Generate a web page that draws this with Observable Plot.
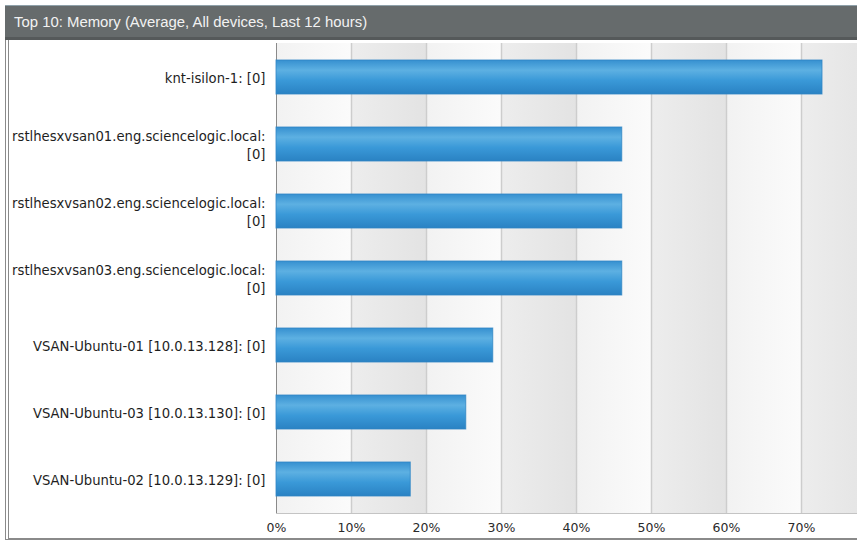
<!DOCTYPE html>
<html>
<head>
<meta charset="utf-8">
<script src="https://cdn.jsdelivr.net/npm/d3@7"></script>
<script src="https://cdn.jsdelivr.net/npm/@observablehq/plot@0.6"></script>
<style>
  html, body { margin: 0; padding: 0; width: 857px; height: 544px; overflow: hidden; background: #fff; }
  #frame { position: absolute; left: 5px; top: 5px; width: 900px; height: 535px;
           border-left: 4px double #8a8a8a; border-bottom: 2px solid #8a8a8a; box-sizing: border-box; }
  #titlebar { position: absolute; left: 5px; top: 5px; width: 900px; height: 35px; box-sizing: border-box;
              background: #666b6c; border-top: 1px solid #8fa1aa; border-bottom: 3px solid #55595a;
              color: #f2f2f2; font-family: "Liberation Sans", Arial, sans-serif; font-size: 14.9px;
              line-height: 33px; padding-left: 9px; white-space: nowrap; }
  #chart { position: absolute; left: 9px; top: 40px; }
</style>
</head>
<body>
<svg width="0" height="0" style="position:absolute">
  <defs>
    <linearGradient id="barGrad" x1="0" y1="0" x2="0" y2="1">
      <stop offset="0" stop-color="#3690d0"/>
      <stop offset="0.3" stop-color="#5db0e2"/>
      <stop offset="0.6" stop-color="#3a99d8"/>
      <stop offset="1" stop-color="#2a82c3"/>
    </linearGradient>
    <linearGradient id="lightBand" x1="0" y1="0" x2="1" y2="0">
      <stop offset="0" stop-color="#f2f2f2"/>
      <stop offset="1" stop-color="#fbfbfb"/>
    </linearGradient>
    <linearGradient id="grayBand" x1="0" y1="0" x2="1" y2="0">
      <stop offset="0" stop-color="#ededed"/>
      <stop offset="1" stop-color="#e3e3e3"/>
    </linearGradient>
  </defs>
</svg>
<div id="frame"></div>
<div id="chart"></div>
<div id="titlebar">Top 10: Memory (Average, All devices, Last 12 hours)</div>
<script>
// ---- data ----
const devices = [
  "knt-isilon-1: [0]",
  "rstlhesxvsan01.eng.sciencelogic.local:\n[0]",
  "rstlhesxvsan02.eng.sciencelogic.local:\n[0]",
  "rstlhesxvsan03.eng.sciencelogic.local:\n[0]",
  "VSAN-Ubuntu-01 [10.0.13.128]: [0]",
  "VSAN-Ubuntu-03 [10.0.13.130]: [0]",
  "VSAN-Ubuntu-02 [10.0.13.129]: [0]"
];
const memoryPct = [72.8, 46.1, 46.1, 46.1, 28.9, 25.3, 17.9];
const xTicks = [0, 10, 20, 30, 40, 50, 60, 70];
const gridTicks = [10, 20, 30, 40, 50, 60, 70, 80];
const bandStarts = [0, 10, 20, 30, 40, 50, 60, 70];

const rows = devices.map((d, i) => ({device: d, value: memoryPct[i]}));
const bands = bandStarts.map((s, i) => ({x1: s, x2: s + 10, kind: i % 2 === 0 ? "light" : "gray"}));

function bottomLine(index, scales, values, dims) {
  const ns = "http://www.w3.org/2000/svg";
  const l = document.createElementNS(ns, "line");
  const y = dims.height - dims.marginBottom + 0.5;
  l.setAttribute("x1", scales.x(0));
  l.setAttribute("x2", scales.x(80));
  l.setAttribute("y1", y);
  l.setAttribute("y2", y);
  l.setAttribute("stroke", "#c4c4c4");
  l.setAttribute("stroke-width", 1);
  return l;
}

const chart = Plot.plot({
  width: 871,
  height: 504,
  marginTop: 3,
  marginBottom: 31,
  marginLeft: 267,
  marginRight: 4,
  style: {maxWidth: "none", background: "transparent", fontFamily: "'DejaVu Sans', sans-serif", fontSize: "13.2px", overflow: "visible"},
  x: {domain: [0, 80]},
  y: {domain: devices, paddingInner: 0.5, paddingOuter: 0.25},
  marks: [
    Plot.rect(bands, {x1: "x1", x2: "x2", fill: d => d.kind === "light" ? "url(#lightBand)" : "url(#grayBand)"}),
    Plot.gridX(gridTicks, {stroke: "#cdcdcd", strokeOpacity: 1, strokeWidth: 1.5}),
    bottomLine,
    Plot.ruleX([0], {stroke: "#8a8a8a", strokeWidth: 1}),
    Plot.barX(rows, {x: "value", y: "device", fill: "url(#barGrad)", stroke: "#2f86c4", strokeWidth: 1, strokeOpacity: 0.8}),
    Plot.axisY({tickSize: 0, tickPadding: 11, label: null, fill: "#1e1e1e", lineHeight: 1.37, fontSize: 13.2}),
    Plot.axisX(xTicks, {tickSize: 0, tickPadding: 10, label: null, fill: "#2a2a2a", fontSize: 12.5, tickFormat: d => d + "%"})
  ]
});
document.getElementById("chart").appendChild(chart);
</script>
</body>
</html>
